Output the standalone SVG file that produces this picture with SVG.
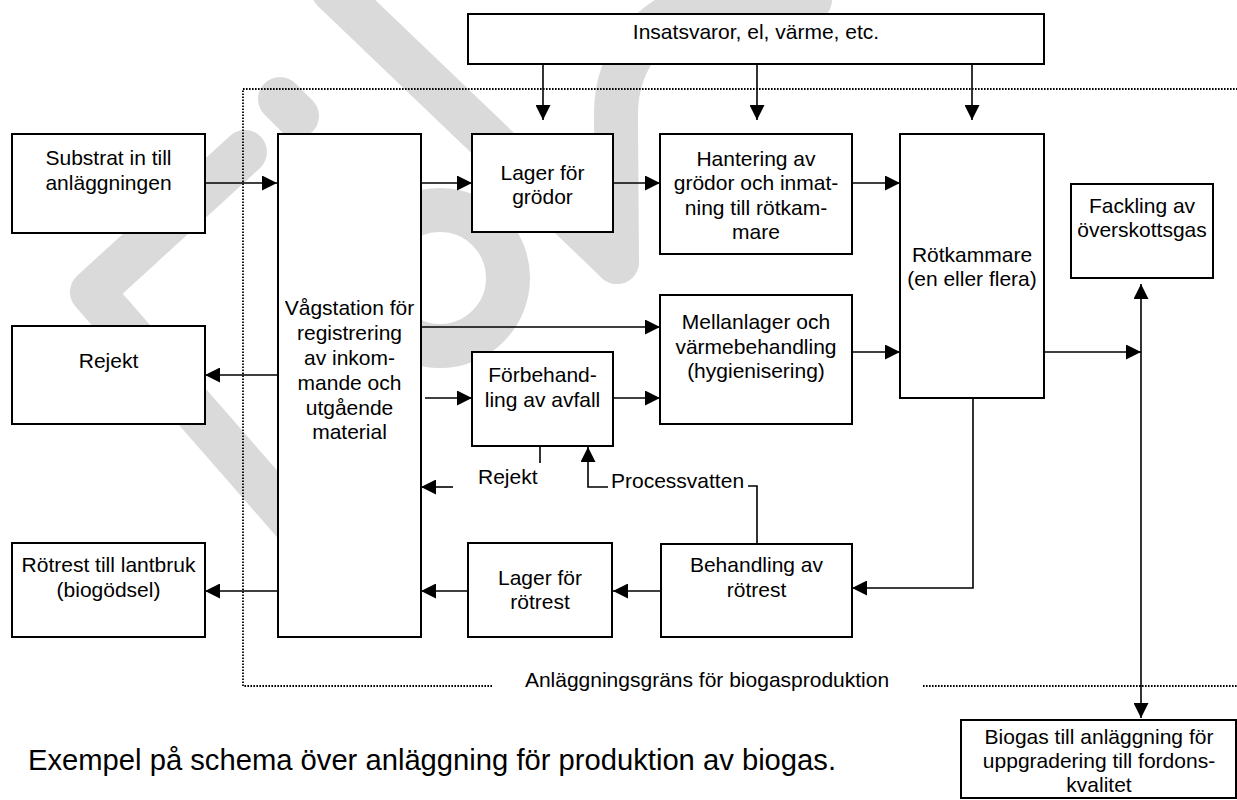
<svg xmlns="http://www.w3.org/2000/svg" width="1237" height="800" viewBox="0 0 1237 800">
  <defs>
    <marker id="arrow" viewBox="0 0 15 15" markerUnits="userSpaceOnUse" markerWidth="15" markerHeight="15" refX="15" refY="7.5" orient="auto-start-reverse">
      <path d="M0,0 L15,7.5 L0,15 z" fill="#000"/>
    </marker>
    <style>
      .box { fill: #fff; stroke: #000; stroke-width: 2; }
      .lbl { font-family: "Liberation Sans", Arial, sans-serif; font-size: 21px; fill: #000; text-anchor: middle; }
      .lft { text-anchor: start; }
      .cap { font-family: "Liberation Sans", Arial, sans-serif; font-size: 29.2px; fill: #000; }
      .con { fill: none; stroke: #000; stroke-width: 1.6; }
      .arr { marker-end: url(#arrow); }
      .bound { fill: none; stroke: #000; stroke-width: 1.8; stroke-dasharray: 1.6 1.4; }
      .wm { fill: none; stroke: #dadada; stroke-width: 44; stroke-linecap: round; stroke-linejoin: round; }
    </style>
  </defs>

  <rect width="1237" height="800" fill="#fff"/>

  <!-- light grey background mark -->
  <g id="watermark">
    <path class="wm" d="M245 152 L92 292 L300 530"/>
    <path class="wm" d="M280 99 L297 116"/>
    <path class="wm" d="M333 -10 L617 262"/>
    <circle class="wm" cx="440" cy="278" r="68" stroke-width="34"/>
    <path class="wm" d="M617 262 L616 120 C614 60 650 10 720 0 L810 0" stroke-width="40"/>
  </g>

  <!-- plant boundary (dotted) -->
  <g id="boundary">
    <path class="bound" d="M492 686 H243 V89 H1237"/>
    <path class="bound" d="M923 686 H1237"/>
    <text class="lbl" x="707" y="687">Anläggningsgräns för biogasproduktion</text>
  </g>

  <!-- connectors -->
  <g id="connectors">
    <path class="con arr" d="M195 183 H277"/>
    <path class="con arr" d="M421 183 H472"/>
    <path class="con arr" d="M613 183 H660"/>
    <path class="con arr" d="M852 183 H900"/>
    <path class="con arr" d="M543 64 V120"/>
    <path class="con arr" d="M757 64 V120"/>
    <path class="con arr" d="M972 64 V120"/>
    <path class="con arr" d="M421 327 H660"/>
    <path class="con arr" d="M425 398 H472"/>
    <path class="con arr" d="M613 398 H660"/>
    <path class="con arr" d="M852 352 H900"/>
    <path class="con arr" d="M1044 352 H1141"/>
    <path class="con arr" d="M285 375 H205"/>
    <path class="con" d="M540 446 V463"/>
    <path class="con arr" d="M453 487 H421"/>
    <path class="con arr" d="M608 487 H588 V447"/>
    <path class="con" d="M748 486 H757 V544"/>
    <path class="con arr" d="M973 398 V588 H852"/>
    <path class="con arr" d="M661 591 H613"/>
    <path class="con arr" d="M468 591 H421"/>
    <path class="con arr" d="M278 591 H205"/>
    <path class="con" d="M1141 284 V718" marker-start="url(#arrow)" marker-end="url(#arrow)"/>
    <text class="lbl lft" x="478" y="484">Rejekt</text>
    <text class="lbl lft" x="611" y="488">Processvatten</text>
  </g>

  <g id="n-insats">
    <rect class="box" x="468" y="14" width="576" height="50"/>
    <text class="lbl" x="756" y="39">Insatsvaror, el, värme, etc.</text>
  </g>

  <g id="n-substrat">
    <rect class="box" x="12" y="134" width="193" height="99"/>
    <text class="lbl" x="108.5" y="165">Substrat in till</text>
    <text class="lbl" x="108.5" y="190">anläggningen</text>
  </g>

  <g id="n-rejekt">
    <rect class="box" x="12" y="326" width="193" height="98"/>
    <text class="lbl" x="108.5" y="368">Rejekt</text>
  </g>

  <g id="n-rotrest-lantbruk">
    <rect class="box" x="12" y="543" width="193" height="94"/>
    <text class="lbl" x="108.5" y="572">Rötrest till lantbruk</text>
    <text class="lbl" x="108.5" y="597">(biogödsel)</text>
  </g>

  <g id="n-vagstation">
    <rect class="box" x="278" y="134" width="143" height="503"/>
    <text class="lbl" x="349.5" y="315">Vågstation för</text>
    <text class="lbl" x="349.5" y="340">registrering</text>
    <text class="lbl" x="349.5" y="365">av inkom-</text>
    <text class="lbl" x="349.5" y="390">mande och</text>
    <text class="lbl" x="349.5" y="415">utgående</text>
    <text class="lbl" x="349.5" y="439">material</text>
  </g>

  <g id="n-lager-grodor">
    <rect class="box" x="472" y="134" width="141" height="98"/>
    <text class="lbl" x="542.5" y="180">Lager för</text>
    <text class="lbl" x="542.5" y="204">grödor</text>
  </g>

  <g id="n-hantering">
    <rect class="box" x="660" y="134" width="192" height="120"/>
    <text class="lbl" x="756" y="166">Hantering av</text>
    <text class="lbl" x="756" y="190">grödor och inmat-</text>
    <text class="lbl" x="756" y="215">ning till rötkam-</text>
    <text class="lbl" x="756" y="239">mare</text>
  </g>

  <g id="n-rotkammare">
    <rect class="box" x="900" y="134" width="144" height="264"/>
    <text class="lbl" x="972" y="262">Rötkammare</text>
    <text class="lbl" x="972" y="286">(en eller flera)</text>
  </g>

  <g id="n-fackling">
    <rect class="box" x="1071" y="184" width="142" height="94"/>
    <text class="lbl" x="1142" y="213">Fackling av</text>
    <text class="lbl" x="1142" y="237">överskottsgas</text>
  </g>

  <g id="n-mellanlager">
    <rect class="box" x="660" y="295" width="192" height="129"/>
    <text class="lbl" x="756" y="329">Mellanlager och</text>
    <text class="lbl" x="756" y="354">värmebehandling</text>
    <text class="lbl" x="756" y="378">(hygienisering)</text>
  </g>

  <g id="n-forbehandling">
    <rect class="box" x="472" y="352" width="141" height="94"/>
    <text class="lbl" x="542.5" y="382">Förbehand-</text>
    <text class="lbl" x="542.5" y="407">ling av avfall</text>
  </g>

  <g id="n-behandling">
    <rect class="box" x="661" y="544" width="191" height="93"/>
    <text class="lbl" x="756.5" y="572">Behandling av</text>
    <text class="lbl" x="756.5" y="597">rötrest</text>
  </g>

  <g id="n-lager-rotrest">
    <rect class="box" x="468" y="543" width="144" height="94"/>
    <text class="lbl" x="540" y="585">Lager för</text>
    <text class="lbl" x="540" y="609">rötrest</text>
  </g>

  <g id="n-biogas">
    <rect class="box" x="961" y="720" width="275" height="78"/>
    <text class="lbl" x="1099" y="744">Biogas till anläggning för</text>
    <text class="lbl" x="1099" y="768">uppgradering till fordons-</text>
    <text class="lbl" x="1099" y="792">kvalitet</text>
  </g>

  <text class="cap" x="28" y="770">Exempel på schema över anläggning för produktion av biogas.</text>
</svg>
